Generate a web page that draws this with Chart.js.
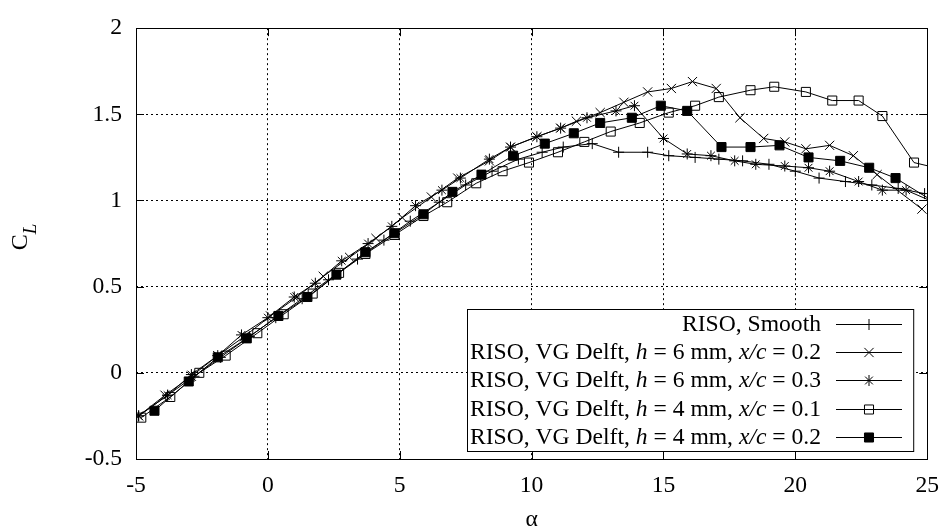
<!DOCTYPE html>
<html>
<head>
<meta charset="utf-8">
<script src="https://cdn.jsdelivr.net/npm/chart.js@4.4.1/dist/chart.umd.min.js"></script>
<style>
  html, body { margin: 0; padding: 0; background: #fff; }
  #wrap { width: 952px; height: 532px; }
</style>
</head>
<body>
<div id="wrap"><canvas id="clChart"></canvas></div>
<script>
// axis ticks
const xTicks = [-5, 0, 5, 10, 15, 20, 25];
const yTicks = [-0.5, 0, 0.5, 1, 1.5, 2];

// RISO, Smooth
const alphaSmooth = [-4.9, -3.8, -2.8, -1.8, -0.7, 0.3, 1.3, 2.3, 3.4, 4.4, 5.4, 6.5, 7.5, 8.5, 9.5, 10.4, 11.2, 12.3, 13.3, 14.4, 15.2, 16.2, 17.1, 18.0, 19.0, 20.0, 20.9, 21.9, 22.9, 23.9, 24.9];
const clSmooth    = [-0.25, -0.13, -0.02, 0.09, 0.21, 0.32, 0.43, 0.54, 0.66, 0.77, 0.88, 0.99, 1.09, 1.17, 1.24, 1.28, 1.31, 1.33, 1.28, 1.28, 1.26, 1.25, 1.24, 1.23, 1.21, 1.17, 1.13, 1.11, 1.09, 1.07, 1.04];

// RISO, VG Delft, h = 6 mm, x/c = 0.2
const alphaH6c2 = [-4.9, -3.9, -2.9, -1.9, -0.9, 0.1, 1.1, 2.1, 3.1, 4.1, 5.1, 6.2, 7.2, 8.4, 9.2, 10.2, 11.1, 11.7, 12.6, 13.5, 14.4, 15.3, 16.1, 17.0, 17.9, 18.8, 19.6, 20.4, 21.3, 22.2, 23.1, 24.8];
const clH6c2    = [-0.25, -0.13, -0.02, 0.10, 0.21, 0.33, 0.44, 0.56, 0.67, 0.78, 0.90, 1.02, 1.13, 1.23, 1.31, 1.37, 1.42, 1.46, 1.51, 1.57, 1.63, 1.65, 1.69, 1.65, 1.48, 1.36, 1.34, 1.30, 1.32, 1.26, 1.15, 0.95];

// RISO, VG Delft, h = 6 mm, x/c = 0.3
const alphaH6c3 = [-4.9, -3.8, -2.9, -1.9, -1.0, 0.0, 1.0, 1.8, 2.8, 3.8, 4.7, 5.6, 6.6, 7.3, 8.4, 9.2, 10.2, 11.1, 12.1, 13.2, 13.9, 15.0, 15.9, 16.8, 17.7, 18.5, 19.6, 20.5, 21.3, 22.4, 23.3, 24.2, 25.4];
const clH6c3    = [-0.25, -0.13, -0.01, 0.10, 0.22, 0.32, 0.44, 0.52, 0.65, 0.75, 0.85, 0.97, 1.06, 1.13, 1.24, 1.31, 1.37, 1.42, 1.48, 1.52, 1.55, 1.36, 1.27, 1.26, 1.23, 1.21, 1.20, 1.19, 1.17, 1.11, 1.06, 1.06, 0.98];

// RISO, VG Delft, h = 4 mm, x/c = 0.1
const alphaH4c1 = [-4.8, -3.7, -2.6, -1.6, -0.4, 0.6, 1.7, 2.7, 3.7, 4.8, 5.9, 6.8, 7.9, 8.9, 9.9, 11.0, 12.0, 13.0, 14.1, 15.2, 16.2, 17.1, 18.3, 19.2, 20.4, 21.4, 22.4, 23.3, 24.5, 25.6];
const clH4c1    = [-0.26, -0.14, 0.00, 0.10, 0.23, 0.34, 0.46, 0.58, 0.69, 0.80, 0.91, 0.99, 1.10, 1.17, 1.22, 1.28, 1.34, 1.40, 1.45, 1.51, 1.55, 1.60, 1.64, 1.66, 1.63, 1.58, 1.58, 1.49, 1.22, 1.18];

// RISO, VG Delft, h = 4 mm, x/c = 0.2
const alphaH4c2 = [-4.3, -3.0, -1.9, -0.8, 0.4, 1.5, 2.6, 3.7, 4.8, 5.9, 7.0, 8.1, 9.3, 10.5, 11.6, 12.6, 13.8, 14.9, 15.9, 17.2, 18.3, 19.4, 20.5, 21.7, 22.8, 23.8, 25.6];
const clH4c2    = [-0.22, -0.05, 0.09, 0.20, 0.33, 0.44, 0.57, 0.70, 0.81, 0.92, 1.05, 1.15, 1.26, 1.33, 1.39, 1.45, 1.48, 1.55, 1.52, 1.31, 1.31, 1.32, 1.25, 1.23, 1.19, 1.13, 0.96];

const seriesLabels = [
    [['RISO, Smooth', false]],
    [['RISO, VG Delft, ', false], ['h', true], [' = 6 mm, ', false], ['x/c', true], [' = 0.2', false]],
    [['RISO, VG Delft, ', false], ['h', true], [' = 6 mm, ', false], ['x/c', true], [' = 0.3', false]],
    [['RISO, VG Delft, ', false], ['h', true], [' = 4 mm, ', false], ['x/c', true], [' = 0.1', false]],
    [['RISO, VG Delft, ', false], ['h', true], [' = 4 mm, ', false], ['x/c', true], [' = 0.2', false]]
];

const FONT = "'Liberation Serif', 'Times New Roman', serif";
const FSIZE = 23.6;

function toPoints(xs, ys) {
    return xs.map((x, i) => ({ x: x, y: ys[i] }));
}

const markers = [
    { pointStyle: 'cross',    radius: 5.5, fill: 'transparent' },
    { pointStyle: 'crossRot', radius: 6.5, fill: 'transparent' },
    { pointStyle: 'star',     radius: 5.5, fill: 'transparent' },
    { pointStyle: 'rect',     radius: 6.4, fill: 'transparent' },
    { pointStyle: 'rect',     radius: 6.4, fill: '#000' }
];

const seriesData = [
    toPoints(alphaSmooth, clSmooth),
    toPoints(alphaH6c2, clH6c2),
    toPoints(alphaH6c3, clH6c3),
    toPoints(alphaH4c1, clH4c1),
    toPoints(alphaH4c2, clH4c2)
];

const datasets = seriesData.map((d, i) => ({
    label: seriesLabels[i].map(s => s[0]).join(''),
    data: d,
    borderColor: '#000',
    borderWidth: 1,
    pointStyle: markers[i].pointStyle,
    pointRadius: markers[i].radius,
    pointBorderColor: '#000',
    pointBorderWidth: 1,
    pointBackgroundColor: markers[i].fill,
    tension: 0,
    fill: false
}));

// frame, inward tick marks, legend box and rotated C_L title
const decorPlugin = {
    id: 'decor',
    beforeDatasetsDraw(chart) {
        const { ctx, chartArea: a, scales } = chart;
        ctx.save();
        ctx.strokeStyle = '#000';
        ctx.lineWidth = 1;
        ctx.setLineDash([]);
        ctx.beginPath();
        xTicks.forEach(v => {
            const px = Math.round(scales.x.getPixelForValue(v)) + 0.5;
            ctx.moveTo(px, a.bottom); ctx.lineTo(px, a.bottom - 8);
            ctx.moveTo(px, a.top); ctx.lineTo(px, a.top + 8);
        });
        yTicks.forEach(v => {
            const py = Math.round(scales.y.getPixelForValue(v)) + 0.5;
            ctx.moveTo(a.left, py); ctx.lineTo(a.left + 8, py);
            ctx.moveTo(a.right, py); ctx.lineTo(a.right - 8, py);
        });
        ctx.stroke();
        ctx.strokeRect(Math.round(a.left) + 0.5, Math.round(a.top) + 0.5,
                       Math.round(a.right - a.left), Math.round(a.bottom - a.top));
        ctx.restore();
    },
    afterDraw(chart) {
        const { ctx, chartArea: a } = chart;
        ctx.save();
        // legend
        const boxL = 467.5, boxT = 309.5, boxR = a.right - 13.5, boxB = a.bottom - 7.5;
        ctx.fillStyle = '#fff';
        ctx.fillRect(boxL, boxT, boxR - boxL, boxB - boxT);
        ctx.strokeStyle = '#000';
        ctx.lineWidth = 1;
        ctx.strokeRect(boxL, boxT, boxR - boxL, boxB - boxT);
        const textR = 821, lineL = 836, lineR = 902, rowH = 28.35;
        ctx.textBaseline = 'middle';
        ctx.textAlign = 'left';
        seriesLabels.forEach((segs, i) => {
            const cy = boxT + 14 + i * rowH;
            let w = 0;
            segs.forEach(([t, it]) => {
                ctx.font = (it ? 'italic ' : '') + FSIZE + 'px ' + FONT;
                w += ctx.measureText(t).width;
            });
            let x = textR - w;
            ctx.fillStyle = '#000';
            segs.forEach(([t, it]) => {
                ctx.font = (it ? 'italic ' : '') + FSIZE + 'px ' + FONT;
                ctx.fillText(t, x, cy + 1);
                x += ctx.measureText(t).width;
            });
            ctx.beginPath();
            ctx.moveTo(lineL, Math.round(cy) + 0.5);
            ctx.lineTo(lineR, Math.round(cy) + 0.5);
            ctx.stroke();
            ctx.fillStyle = markers[i].fill;
            Chart.helpers.drawPoint(ctx, {
                pointStyle: markers[i].pointStyle,
                radius: markers[i].radius,
                rotation: 0,
                borderWidth: 1
            }, (lineL + lineR) / 2, Math.round(cy) + 0.5);
        });
        // y-axis title C_L
        ctx.translate(19, 237);
        ctx.rotate(-Math.PI / 2);
        ctx.fillStyle = '#000';
        ctx.textBaseline = 'alphabetic';
        ctx.font = '24px ' + FONT;
        const cw = ctx.measureText('C').width;
        ctx.font = 'italic 19px ' + FONT;
        const lw = ctx.measureText('L').width;
        const x0 = -(cw + lw) / 2;
        ctx.font = '24px ' + FONT;
        ctx.fillText('C', x0, 8);
        ctx.font = 'italic 19px ' + FONT;
        ctx.fillText('L', x0 + cw, 17);
        ctx.restore();
    }
};

const ctx = document.getElementById('clChart');
new Chart(ctx, {
    type: 'line',
    data: { datasets: datasets },
    plugins: [decorPlugin],
    options: {
        responsive: true,
        maintainAspectRatio: false,
        animation: false,
        layout: { padding: { left: 0, right: 23, top: 15, bottom: 0 } },
        plugins: {
            legend: { display: false },
            tooltip: { enabled: false }
        },
        scales: {
            x: {
                type: 'linear',
                min: -5,
                max: 25,
                afterBuildTicks: s => { s.ticks = xTicks.map(v => ({ value: v })); },
                afterFit: s => { s.height = 73; },
                grid: { color: '#000', lineWidth: 1, drawTicks: false },
                border: { display: false, dash: [2, 3] },
                ticks: {
                    color: '#000',
                    font: { family: FONT, size: FSIZE },
                    padding: 13,
                    maxRotation: 0,
                    callback: v => String(v)
                },
                title: {
                    display: true,
                    text: 'α',
                    color: '#000',
                    font: { family: FONT, size: FSIZE, lineHeight: 1 },
                    padding: { top: 0, bottom: 0 }
                }
            },
            y: {
                type: 'linear',
                min: -0.5,
                max: 2,
                afterBuildTicks: s => { s.ticks = yTicks.map(v => ({ value: v })); },
                afterFit: s => { s.width = 136; },
                grid: { color: '#000', lineWidth: 1, drawTicks: false },
                border: { display: false, dash: [2, 3] },
                ticks: {
                    color: '#000',
                    font: { family: FONT, size: FSIZE },
                    padding: 14,
                    callback: v => String(v)
                }
            }
        }
    }
});
</script>
</body>
</html>
